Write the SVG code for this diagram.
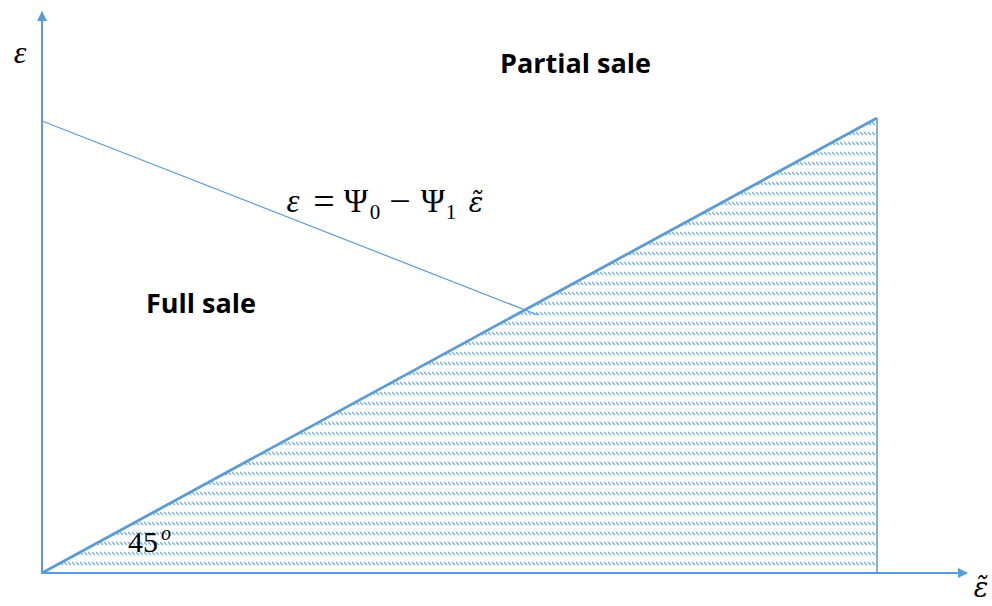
<svg xmlns="http://www.w3.org/2000/svg" width="992" height="606" viewBox="0 0 992 606">
<style>
.ax{stroke:#5b9bd5;stroke-width:2;fill:none}
.ln{stroke:#5b9bd5;fill:none}
.lbl{font-family:"Open Sans","Liberation Sans",sans-serif;font-weight:bold;font-size:27px;fill:#000}
.m{font-family:"Liberation Serif","DejaVu Serif",serif;fill:#000;text-anchor:middle}
.d{font-family:"DejaVu Serif",serif;fill:#000;text-anchor:middle;font-style:italic}
.it{font-style:italic}
.eq{font-size:33px}
.op{font-size:38px}
.sub{font-size:21px}
</style>
<defs>
<marker id="ah" viewBox="0 0 10 10" refX="9" refY="5" markerWidth="5" markerHeight="5" orient="auto" markerUnits="strokeWidth">
<path d="M0,0 L10,5 L0,10 z" fill="#5b9bd5"/>
</marker>
<pattern id="hatch" width="4" height="10" patternUnits="userSpaceOnUse">
<path d="M0,2 L3,5" stroke="#5b9bd5" stroke-width="1.3" opacity="0.8"/>
</pattern>
</defs>
<g id="region">
<polygon points="42,573 877,118 877,573" fill="url(#hatch)"/>
<line class="ln" x1="877" y1="118" x2="877" y2="573" stroke-width="1.5"/>
<line class="ln" x1="42" y1="573" x2="877" y2="118" stroke-width="2.8"/>
</g>
<g id="connectors">
<line class="ax" x1="42" y1="574" x2="42" y2="12" marker-end="url(#ah)"/>
<line class="ax" x1="41" y1="573" x2="967" y2="573" marker-end="url(#ah)"/>
<line class="ln" x1="42" y1="121" x2="538" y2="315" stroke-width="1.2"/>
</g>
<g id="labels">
<text class="m it" x="20" y="63" font-size="32">ε</text>
<text class="lbl" x="500" y="73">Partial sale</text>
<text class="lbl" x="146" y="313">Full sale</text>
<g id="equation">
<text class="m it eq" x="293" y="212">ε</text>
<text class="m op" x="324" y="214">=</text>
<text class="m eq" x="356" y="212">Ψ</text>
<text class="m sub" x="375" y="219">0</text>
<text class="m op" x="400" y="214">−</text>
<text class="m eq" x="433" y="212">Ψ</text>
<text class="m sub" x="451" y="219">1</text>
<text class="d" x="476" y="212" font-size="27">ε̃</text>
</g>
<text class="m" x="143" y="552" font-size="30">45</text>
<text class="m it" x="166" y="540" font-size="20">o</text>
<text class="d" x="981" y="597" font-size="27">ε̃</text>
</g>
</svg>
